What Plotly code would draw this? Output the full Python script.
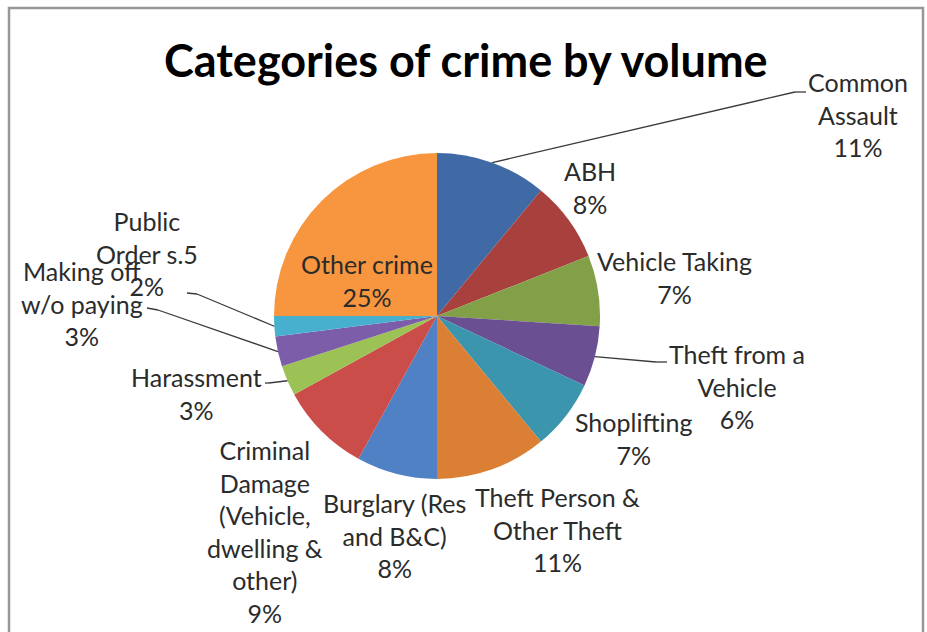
import math
import plotly.graph_objects as go

# Crime categories (share of total volume, %)
categories = [
    "Common Assault", "ABH", "Vehicle Taking", "Theft from a Vehicle",
    "Shoplifting", "Theft Person & Other Theft", "Burglary (Res and B&C)",
    "Criminal Damage (Vehicle, dwelling & other)", "Harassment",
    "Making off w/o paying", "Public Order s.5", "Other crime",
]
shares = [11, 8, 7, 6, 7, 11, 8, 9, 3, 3, 2, 25]

# How each category name is broken over lines in its label
label_lines = [
    ["Common", "Assault"], ["ABH"], ["Vehicle Taking"], ["Theft from a", "Vehicle"],
    ["Shoplifting"], ["Theft Person &", "Other Theft"], ["Burglary (Res", "and B&C)"],
    ["Criminal", "Damage", "(Vehicle,", "dwelling &", "other)"], ["Harassment"],
    ["Making off", "w/o paying"], ["Public", "Order s.5"], ["Other crime"],
]

colors = [
    "#3F6AA6", "#A8403D", "#82A047", "#6A4F92", "#3A95AD", "#DB7F35",
    "#4F81C4", "#CA4D49", "#9CC256", "#7C5DAA", "#48B0CF", "#F7963F",
]

W, H = 927, 632
CX, CY, R = 437, 316, 163  # pie centre and radius in pixels

# Label block centres (pixels) and optional leader-line elbows
label_pos = [
    (858, 115), (590, 187), (674, 277), (737, 386), (633, 438), (557, 529),
    (394, 535), (265, 531), (196, 393), (82, 303), (147, 254), (367, 281),
]
leaders = {
    0: [(795, 92), (806, 92)],
    3: [(656, 362), (667, 362)],
    8: [(269, 383), (265, 383)],
    9: [(158, 310), (147, 308)],
    10: [(197, 294), (187, 293)],
}


def px(x, y):
    return x / W, 1 - y / H


fig = go.Figure(go.Pie(
    labels=categories,
    values=shares,
    sort=False,
    direction="clockwise",
    rotation=0,
    marker=dict(colors=colors, line=dict(width=0)),
    textinfo="none",
    hoverinfo="label+percent",
    showlegend=False,
    domain=dict(x=[(CX - R) / W, (CX + R) / W],
                y=[(H - CY - R) / H, (H - CY + R) / H]),
))

font_family = "Lato, 'Open Sans', sans-serif"
total = sum(shares)
cum = 0
shapes = [dict(type="rect", xref="paper", yref="paper",
               x0=9 / W, x1=923 / W, y0=-0.05, y1=1 - 8 / H,
               line=dict(color="#979797", width=2.5), fillcolor="rgba(0,0,0,0)")]
annotations = []
for i, (name_lines, v) in enumerate(zip(label_lines, shares)):
    mid = math.radians((cum + v / 2) / total * 360)
    cum += v
    text = "<br>".join(name_lines + [f"{v}%"])
    lx, ly = px(*label_pos[i])
    annotations.append(dict(
        x=lx, y=ly, xref="paper", yref="paper", text=text, showarrow=False,
        xanchor="center", yanchor="middle", align="center",
        font=dict(family=font_family, size=25, color="#2b2b2b"),
    ))
    if i in leaders:
        ex, ey = CX + R * math.sin(mid), CY - R * math.cos(mid)
        pts = [(ex, ey)] + leaders[i]
        for (x0, y0), (x1, y1) in zip(pts[:-1], pts[1:]):
            a0, b0 = px(x0, y0)
            a1, b1 = px(x1, y1)
            shapes.append(dict(type="line", xref="paper", yref="paper",
                               x0=a0, y0=b0, x1=a1, y1=b1,
                               line=dict(color="#3a3a3a", width=1.3)))

annotations.append(dict(
    x=466 / W, y=1 - 60 / H, xref="paper", yref="paper",
    text="<b>Categories of crime by volume</b>", showarrow=False,
    xanchor="center", yanchor="middle",
    font=dict(family=font_family, size=45, color="#000000"),
))

fig.update_layout(
    width=W, height=H,
    margin=dict(l=0, r=0, t=0, b=0),
    paper_bgcolor="white", plot_bgcolor="white",
    shapes=shapes, annotations=annotations,
)

fig.write_html("out.html")
